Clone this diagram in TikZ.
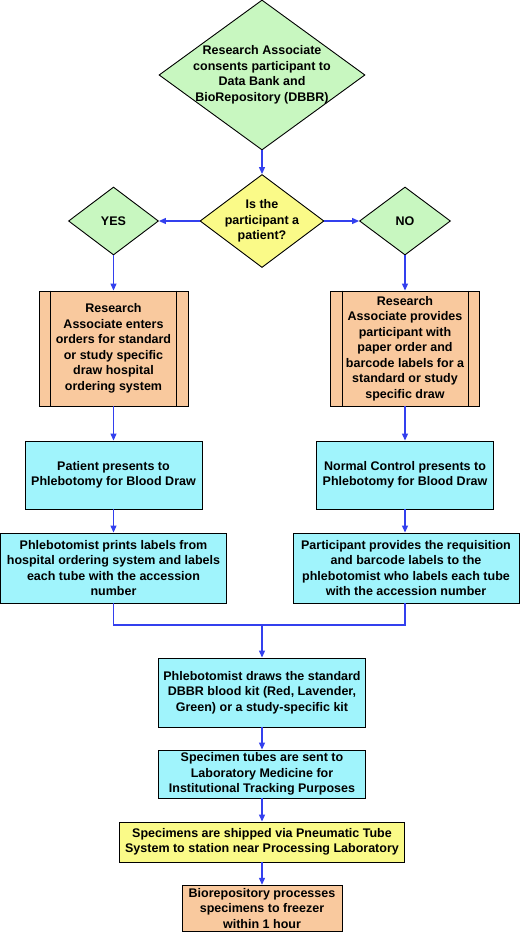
\documentclass[tikz,border=0pt]{standalone}
\usepackage{fontspec}
\setmainfont{Liberation Sans}
\usetikzlibrary{shapes.geometric,arrows.meta,calc}
\definecolor{dgreen}{HTML}{C8F7C0}
\definecolor{dyellow}{HTML}{FAFA88}
\definecolor{dorange}{HTML}{F9C99E}
\definecolor{dcyan}{HTML}{A0F4FC}
\definecolor{dblue}{HTML}{3340EE}
\tikzset{
  every node/.style={font=\fontsize{12.5}{15.5}\selectfont\bfseries, align=center, inner sep=0pt},
  dia/.style={shape=diamond, draw=black, line width=0.9pt, inner sep=0pt},
  box/.style={shape=rectangle, draw=black, line width=0.9pt},
  txt/.style={draw=none, fill=none},
  conn/.style={draw=dblue, line width=1.2pt},
  arr/.style={conn, -{Triangle[length=7pt,width=6pt]}},
}
\begin{document}
\begin{tikzpicture}[x=1pt,y=-1pt]
\useasboundingbox[fill=white] (0,0) rectangle (520,932);
% diamonds
\node[dia, fill=dgreen, minimum width=206, minimum height=150] (d1) at (262,75) {};
\node[txt] at (d1.center) {Research Associate\\consents participant to\\Data Bank and\\BioRepository (DBBR)};
\node[dia, fill=dyellow, minimum width=124, minimum height=93] (q) at (262,221) {};
\node[txt] at (q.center) {Is the\\participant a\\patient?};
\node[dia, fill=dgreen, minimum width=90, minimum height=68] (yes) at (113.5,221) {};
\node[txt] at (yes.center) {YES};
\node[dia, fill=dgreen, minimum width=91, minimum height=68] (no) at (405,221) {};
\node[txt] at (no.center) {NO};
% predefined process boxes
\node[box, fill=dorange, minimum width=149, minimum height=115] (o1) at (113.5,348.5)
  {Research\\Associate enters\\orders for standard\\or study specific\\draw hospital\\ordering system};
\node[box, fill=dorange, minimum width=149, minimum height=115] (o2) at (405,348.5)
  {Research\\Associate provides\\participant with\\paper order and\\barcode labels for a\\standard or study\\specific draw};
\foreach \n in {o1,o2}{
  \draw[line width=0.9pt] ([xshift=12pt]\n.north west) -- ([xshift=12pt]\n.south west);
  \draw[line width=0.9pt] ([xshift=-12pt]\n.north east) -- ([xshift=-12pt]\n.south east);
}
% cyan boxes
\node[box, fill=dcyan, minimum width=177, minimum height=68] (c1) at (113.5,475)
  {Patient presents to\\Phlebotomy for Blood Draw};
\node[box, fill=dcyan, minimum width=177, minimum height=68] (c2) at (405,475)
  {Normal Control presents to\\Phlebotomy for Blood Draw};
\node[box, fill=dcyan, minimum width=226, minimum height=70] (p1) at (113.5,568)
  {Phlebotomist prints labels from\\hospital ordering system and labels\\each tube with the accession\\number};
\node[box, fill=dcyan, minimum width=226, minimum height=70] (p2) at (406,568)
  {Participant provides the requisition\\and barcode labels to the\\phlebotomist who labels each tube\\with the accession number};
\node[box, fill=dcyan, minimum width=207, minimum height=69] (m1) at (262,692.5)
  {Phlebotomist draws the standard\\DBBR blood kit (Red, Lavender,\\Green) or a study-specific kit};
\node[box, fill=dcyan, minimum width=207, minimum height=48] (m2) at (262,774)
  {Specimen tubes are sent to\\Laboratory Medicine for\\Institutional Tracking Purposes};
\node[box, fill=dyellow, minimum width=285, minimum height=40] (y1) at (262,842)
  {Specimens are shipped via Pneumatic Tube\\System to station near Processing Laboratory};
\node[box, fill=dorange, minimum width=160, minimum height=46.5] (b1) at (262,908.5)
  {Biorepository processes\\specimens to freezer\\within 1 hour};
% connectors
\coordinate (j) at (262,625);
\draw[arr] (d1.south) -- (q.north);
\draw[arr] (q.west) -- (yes.east);
\draw[arr] (q.east) -- (no.west);
\draw[arr] (yes.south) -- (o1.north);
\draw[arr] (no.south) -- (o2.north);
\draw[arr] (o1.south) -- (c1.north);
\draw[arr] (o2.south) -- (c2.north);
\draw[arr] (c1.south) -- (c1.south |- p1.north);
\draw[arr] (c2.south) -- (c2.south |- p2.north);
\draw[conn] (p1.south) -- (p1.south |- j) -- (c2.south |- j) -- (c2.south |- p2.south);
\draw[arr] (j) -- (m1.north);
\draw[arr] (m1.south) -- (m2.north);
\draw[arr] (m2.south) -- (y1.north);
\draw[arr] (y1.south) -- (b1.north);
\end{tikzpicture}
\end{document}
